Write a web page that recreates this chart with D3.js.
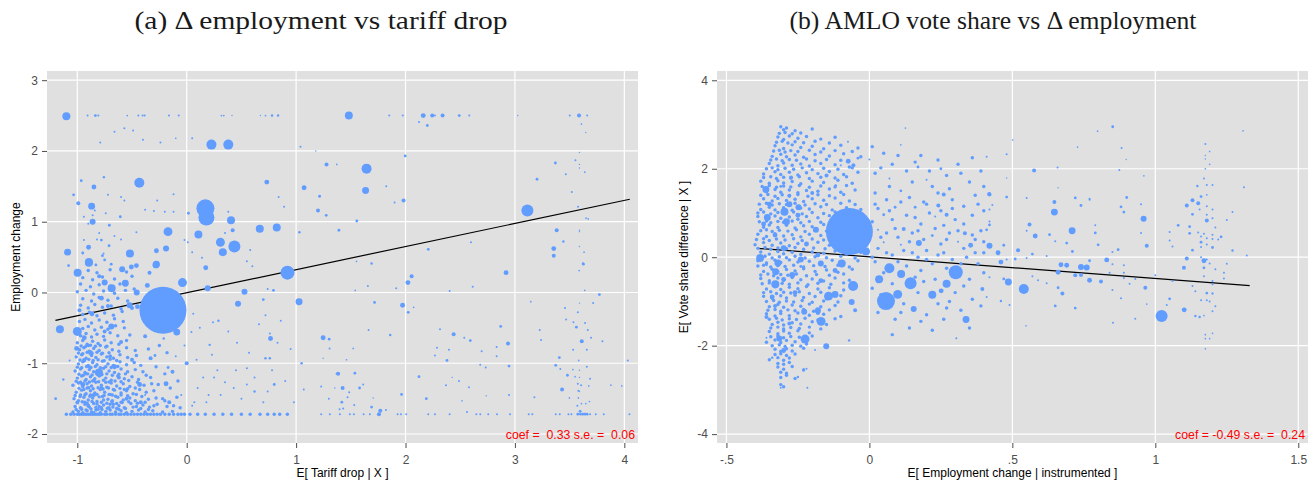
<!DOCTYPE html>
<html><head><meta charset="utf-8">
<script src="https://cdn.jsdelivr.net/npm/d3@7"></script>
<style>body{margin:0;background:#fff}svg{display:block}</style>
</head><body>
<script>
// ---------- DATA ----------
const titleA = "(a) \u0394 employment vs tariff drop";
const titleB = "(b) AMLO vote share vs \u0394 employment";
const xTitleA = "E[ Tariff drop | X ]";
const yTitleA = "Employment change";
const xTitleB = "E[ Employment change | instrumented ]";
const yTitleB = "E[ Vote share difference | X ]";
const coefA = "coef =  0.33 s.e. =  0.06";
const coefB = "coef = -0.49 s.e. =  0.24";

const xTicksA = [-1, 0, 1, 2, 3, 4];
const xLabelsA = ["-1", "0", "1", "2", "3", "4"];
const yTicksA = [-2, -1, 0, 1, 2, 3];
const yLabelsA = ["-2", "-1", "0", "1", "2", "3"];
const xTicksB = [-0.5, 0, 0.5, 1, 1.5];
const xLabelsB = ["-.5", "0", ".5", "1", "1.5"];
const yTicksB = [-4, -2, 0, 2, 4];
const yLabelsB = ["-4", "-2", "0", "2", "4"];

// fitted lines (endpoints)
const fitA = [[-1.2, -0.395], [4.05, 1.318]];
const fitB = [[-0.39, 0.20], [1.33, -0.64]];

// panel (a): [x, y, weight]  (weight omitted = small municipality)
const pointsA = [
 // large / medium
 [-1.10,2.49,16],[0.226,2.09,25],[0.38,2.09,25],[-0.433,1.55,25],[0.171,1.19,81],[0.18,1.06,64],[0.405,1.02,16],[0.668,0.90,16],[0.823,0.92,16],[0.436,0.65,36],[0.308,0.71,20],[0.33,0.57,16],[0.107,0.82,16],[-0.171,0.86,20],[-0.519,0.55,16],[-0.869,1.22,12],[-0.86,1.0,9],[-1.089,0.57,12],[-0.848,1.49,6],[-0.897,0.64,6],[-0.894,0.43,16],[-0.991,1.26,4],[-1.034,1.38,2],[-0.964,1.58,2],[-0.757,1.63,1.5],[-0.277,0.59,6],[-0.189,0.62,9],[-0.277,0.40,12],[-0.46,0.38,6],[0.016,1.12,2],[0.42,0.88,4],[-0.607,1.07,2],[-0.707,0.95,2],[0.732,1.56,6],[1.073,1.48,6],[1.214,1.36,2],[1.2,1.16,4],[1.278,1.81,4],[1.04,2.06,1],[1.18,2.0,0.5],[1.03,0.85,1.5],[0.921,0.28,49],
 [-0.217,-0.25,552],[-1.159,-0.52,16],[-1.0,-0.55,20],[-0.997,0.28,16],[-0.894,0.42,16],[-0.75,0.14,9],[-0.686,0.06,16],[-0.561,0.13,12],[-0.457,0.0,9],[-0.36,0.10,6],[-0.281,0.39,12],[-0.039,0.14,20],[-0.091,-0.56,12],[0.192,0.06,9],[0.528,0.01,9],[0.469,-0.16,9],[1.027,-0.13,12],[0.766,-0.65,6],[0.174,0.35,6],[-0.189,-1.29,6],[-0.506,0.36,6],[-0.59,0.33,9],[-0.689,-0.48,9],[-0.522,-0.18,9],[-0.45,-0.2,6],[-0.78,-0.08,6],[-0.8,0.23,4],[-0.936,-0.64,6],[-1.006,-0.79,6],[-0.866,-0.30,6],[-0.72,-0.19,4],[-0.5,-0.22,4],[-0.802,-1.13,16],[-0.34,0.28,4],
 [-0.88,-0.85,6],[-0.95,-1.3,6],[-0.7,-0.9,4],[-0.62,-1.2,4],[-0.55,-1.5,4],[-0.85,-1.45,4],[-0.75,-0.55,4],[-0.6,-0.7,4],[-0.98,-0.25,4],[-0.5,-0.95,4],[-0.42,-1.55,4],[-0.38,-0.62,4],[-0.9,-1.6,4],[-0.66,-1.05,6],[-0.78,-1.35,4],
 // top row (capped at 2.5)
 [-0.906,2.5,1],[-0.835,2.5,2],[-0.808,2.5,1],[-0.543,2.5,0.7],[-0.442,2.5,1],[-0.403,2.5,1],[-0.384,2.5,1],[-0.162,2.5,1],[-0.073,2.5,1],[0.317,2.5,0.7],[0.339,2.5,0.7],[0.414,2.5,0.5],[0.674,2.5,0.5],[0.72,2.5,0.7],[0.78,2.5,1.5],[0.835,2.5,1.5],[1.482,2.5,16],[1.851,2.5,1],[1.975,2.5,1],[2.162,2.5,6],[2.244,2.5,4],[2.269,2.5,1],[2.339,2.5,4],[2.491,2.5,2],[2.583,2.5,1],[3.026,2.5,0.5],[3.501,2.5,1],[3.586,2.5,4],[3.66,2.5,1],
 [-0.79,2.12,1],[-0.66,2.27,1],[-0.57,2.32,1],[-0.49,2.29,1],[-0.40,2.16,1],[-0.24,2.12,1],[-0.1,2.18,0.7],[0.05,2.18,1],
 // scattered upper-left
 [-0.72,1.38,1],[-0.6,1.35,1],[-0.57,1.3,1],[-0.74,1.12,1],[-0.46,0.85,1],[-0.38,1.17,1],[-0.30,1.15,1],[-0.27,1.3,1],[-0.2,1.14,1],[-0.12,1.14,1],[-0.12,1.39,1],[-0.02,0.74,1],[0.01,0.71,1],[0.05,0.57,1],[0.14,0.49,1],[0.55,0.44,1],[0.6,0.37,1],[0.58,0.6,1],[0.84,1.35,1],[0.89,1.21,1],[0.38,1.14,1],[0.35,0.84,1],[-0.78,0.74,2],[-0.82,0.75,1],[-0.71,0.66,2],[-0.6,0.75,1],[-0.77,0.52,2],[-0.76,0.55,1],[-0.83,0.39,2],[-0.95,0.56,2],[-0.94,0.74,1],[-0.94,1.07,1],[-0.95,0.55,1],[-0.9,0.97,1],[-0.86,1.09,1],[-0.84,1.16,1],[-0.8,0.84,1],[-0.66,0.8,1],[-0.75,0.46,2],[-0.69,0.4,2],[-1.08,0.38,2],
 // upper right
 [2.123,2.41,1],[2.199,2.36,2],[1.372,1.81,0.7],[1.644,1.75,25],[1.997,1.93,2],[1.635,1.44,12],[1.824,1.50,1],[1.982,1.30,4],[1.9,1.27,1],[1.217,1.36,1],[1.275,1.09,2],[1.555,1.01,2],[1.391,0.88,2],[3.114,1.16,36],[3.37,1.83,2],[3.202,1.60,2],[3.465,1.67,1],[3.52,1.42,1],[3.553,1.87,1],[3.59,1.98,0.5],[3.59,1.81,0.5],[3.59,1.76,0.5],[3.638,1.70,0.7],[3.608,2.38,0.7],[3.647,2.26,0.5],[3.577,1.21,1],[3.65,1.05,0.7],[3.67,1.04,0.7],[3.382,0.88,4],[3.443,0.72,1.5],[3.355,0.62,6],[3.355,0.52,4],[3.59,0.88,0.5],[3.59,0.86,0.5],[3.59,0.65,0.5],[3.632,0.57,0.7],[3.623,0.41,1.5],[2.208,0.61,2],[2.598,0.71,1],[1.552,0.44,0.7],[1.69,0.41,1.5],
 // lower right
 [2.919,0.28,6],[2.022,0.14,6],[2.056,0.23,4],[1.973,-0.18,6],[2.025,-0.28,2],[2.074,-0.21,0.7],[1.717,-0.14,2],[1.656,0.09,1],[1.54,0.03,0.7],[1.915,0.06,1],[2.403,0.02,1],[2.614,0.08,1],[3.626,0.40,2],[3.587,0.31,0.7],[3.638,0.03,0.7],[3.772,-0.03,2],[3.715,-0.15,1],[3.59,-0.15,0.5],[3.575,-0.28,1],[3.458,-0.22,1],[3.145,-0.13,0.7],[3.468,-0.38,1],[3.535,-0.42,1],[3.562,-0.49,2],[3.641,-0.43,1],[3.666,-0.53,1],[3.611,-0.69,4],[3.696,-0.64,1],[3.657,-0.81,1],[3.532,-0.81,1],[3.8,-0.69,1],[3.227,-0.53,1],[3.239,-0.67,1],[2.87,-0.48,2],[2.937,-0.72,4],[2.833,-0.77,1],[2.696,-0.83,1],[2.833,-0.90,1],[2.946,-1.04,2],[2.733,-1.06,1],[2.683,-1.02,1],[2.592,-0.68,2],[2.537,-0.64,1],[2.44,-0.59,4],[2.315,-0.52,1],[2.397,-0.81,1],[2.287,-0.78,1],[2.379,-0.96,2],[2.269,-0.89,1],[2.123,-1.19,2],[2.37,-1.31,1],[2.489,-1.25,1],[2.58,-1.34,1],[2.427,-1.20,0.5],[2.738,-1.46,0.5],[2.946,-1.45,1],[2.19,-1.50,2],[2.516,-1.53,0.7],[2.562,-1.69,1],[1.964,-1.44,2],[1.86,-0.60,1.5],[1.662,-0.53,1],[1.247,-0.64,6],[1.302,-0.66,2],[1.306,-0.79,1],[1.522,-0.79,0.7],[1.461,-0.95,0.7],[1.247,-0.93,0.5],[1.384,-1.15,4],[1.37,-1.15,1],[1.537,-1.14,2],[1.425,-1.35,4],[1.613,-1.30,1],[1.58,-1.35,2],[1.354,-1.35,0.5],[1.229,-1.33,1],[1.485,-1.41,1],[1.47,-1.48,1],[1.418,-1.55,2],[1.299,-1.50,1],[1.531,-1.59,1],[1.69,-1.62,2],[1.769,-1.67,4],[1.757,-1.72,4],[1.705,-1.49,0.5],[1.821,-1.66,1],[1.397,-1.65,1],[1.43,-1.64,1],[4.032,-0.96,1],[3.977,-1.32,0.7],[3.877,-1.31,0.7],[3.583,-0.96,0.7],[3.373,-1.03,2],[3.406,-0.92,2],[3.415,-1.08,1],[3.48,-1.17,2],[3.431,-1.37,4],[3.55,-1.19,0.7],[3.575,-1.29,1],[3.605,-1.31,1],[3.687,-1.22,1],[3.675,-1.32,0.7],[3.58,-1.39,1],[3.498,-1.49,0.7],[3.58,-1.49,0.7],[3.608,-1.57,0.7],[3.571,-1.60,1],[3.648,-1.57,0.7],[3.681,-1.54,0.7],[3.596,-1.68,2],[3.178,-1.48,1],[3.657,-1.05,1],[3.53,-1.09,0.7],[3.59,-1.1,0.5],[3.59,-1.2,0.5],[3.59,-1.4,0.5],
 // middle (x 0..1)
 [0.793,0.03,2],[0.74,0.05,1],[0.70,-0.10,2],[0.72,-0.32,1],[0.76,-0.58,1],[0.83,-0.71,1],[0.72,-0.93,1.5],[0.76,-0.93,1.5],[0.80,-1.30,2],[1.05,-1.00,1.5],[0.55,-1.07,1],[0.46,-0.71,1],[0.21,-0.74,1.5],[0.29,-0.40,1.5],[0.24,-0.42,1],[0.043,-0.56,1],[0.0,-1.0,4],[-0.13,-1.12,4],[-0.17,-1.06,2],[-0.29,-0.89,2],[-0.33,-0.93,4],[-0.43,-1.3,6],[-0.21,-0.65,1.5],[0.23,-0.88,1],[0.28,-1.1,1],[0.35,-1.27,1],[0.43,-1.35,1],[0.55,-1.30,1],[0.62,-1.40,1.5],[0.74,-1.40,1],[1.07,-1.37,1],[0.07,-1.55,1],[0.18,-1.55,1],[-0.16,-1.55,4],[-0.38,-1.45,1],[-1.198,-1.50,2],[-1.128,-1.23,1.5],[-1.07,-0.96,1],
 [0.25,-1.2,1],[0.31,-1.45,1],[0.38,-0.55,1],[0.45,-1.1,1],[0.5,-1.5,1],[0.57,-0.85,1],[0.62,-1.2,1],[0.66,-0.45,1],[0.7,-1.55,1],[0.78,-1.1,1],[0.86,-0.4,1],[0.9,-1.25,1],[0.95,-0.8,1],[0.98,-1.55,1],[0.12,-0.5,1],[0.06,-0.3,1],[0.1,-1.35,1],[0.15,-1.2,1],[0.2,-1.45,1],[0.05,-1.6,1],[-0.05,-1.45,1],[-0.1,-0.9,1],[-0.02,-0.75,1],[0.09,-0.95,1],
 [-0.25,-0.75],[-0.28,-1.05],[-0.2,-1.15],[-0.15,-1.35],[-0.22,-1.5],[-0.3,-1.6],[-0.12,-1.6],[-0.08,-1.25],[-0.18,-0.85],[-0.26,-1.3],[-0.33,-1.2],[-0.35,-0.8],[-0.3,-0.45],
 // floor (capped at -1.72)
 [-1.1,-1.72],[-1.06,-1.72],[-1.03,-1.72],[-1.0,-1.72],[-0.98,-1.72],[-0.96,-1.72],[-0.94,-1.72],[-0.92,-1.72],[-0.9,-1.72],[-0.88,-1.72],[-0.86,-1.72],[-0.84,-1.72],[-0.82,-1.72],[-0.8,-1.72],[-0.78,-1.72],[-0.75,-1.72],[-0.73,-1.72],[-0.7,-1.72],[-0.68,-1.72],[-0.65,-1.72],[-0.62,-1.72],[-0.6,-1.72],[-0.57,-1.72],[-0.54,-1.72],[-0.51,-1.72],[-0.48,-1.72],[-0.45,-1.72],[-0.42,-1.72],[-0.39,-1.72],[-0.36,-1.72],[-0.33,-1.72],[-0.3,-1.72],[-0.27,-1.72],[-0.24,-1.72],[-0.2,-1.72],[-0.16,-1.72],[-0.12,-1.72],[-0.08,-1.72],[-0.05,-1.72],[-0.02,-1.72],[0.03,-1.72],[0.1,-1.72],[0.17,-1.72],[0.25,-1.72],[0.33,-1.72],[0.41,-1.72],[0.5,-1.72],[0.58,-1.72],[0.67,-1.72],[0.74,-1.72],[0.8,-1.72],[0.85,-1.72],[0.92,-1.72],
 [1.229,-1.72,1],[1.308,-1.72,1],[1.4,-1.72,1],[1.491,-1.72,1],[1.528,-1.72,1],[1.617,-1.72,1],[1.674,-1.72,1],[1.754,-1.72,1],[1.928,-1.72,1],[1.958,-1.72,1],[2.006,-1.72,1],[2.208,-1.72,1],[2.269,-1.72,1],[2.403,-1.72,1],[2.647,-1.72,1],[2.683,-1.72,1],[2.756,-1.72,1],[2.836,-1.72,1],[2.955,-1.72,1],[3.126,-1.72,1],[3.159,-1.72,1],[3.373,-1.72,1],[3.41,-1.72,1],[3.489,-1.72,1],[3.516,-1.72,1],[3.575,-1.72,2],[3.6,-1.72,2],[3.62,-1.72,2],[3.64,-1.72,2],[3.66,-1.72,2],[3.687,-1.72,1],[3.739,-1.72,1],[3.812,-1.72,1],[4.047,-1.72,1],
 // dense block
 [-1.04,-1.69],[-0.99,-1.68],[-0.95,-1.7],[-0.91,-1.67],[-0.87,-1.69],[-0.83,-1.66],[-0.79,-1.7],[-0.74,-1.68],[-0.7,-1.66],[-0.65,-1.69],[-0.6,-1.67],[-0.55,-1.7],[-0.5,-1.68],[-0.44,-1.66],[-0.38,-1.69],[-0.31,-1.67],[-0.22,-1.69],[-0.13,-1.68],
 [-1.02,-1.61],[-0.97,-1.63],[-0.93,-1.58],[-0.89,-1.62],[-0.85,-1.57],[-0.8,-1.61],[-0.76,-1.59],[-0.71,-1.63],[-0.67,-1.58],[-0.62,-1.6],[-0.57,-1.63],[-0.51,-1.57],[-0.46,-1.61],[-0.4,-1.59],[-0.34,-1.62],[-0.27,-1.58],[-0.18,-1.61],[-0.06,-1.63],
 [-1.03,-1.5],[-0.99,-1.53],[-0.94,-1.48],[-0.9,-1.52],[-0.86,-1.49],[-0.82,-1.54],[-0.77,-1.47],[-0.72,-1.51],[-0.68,-1.53],[-0.63,-1.48],[-0.58,-1.52],[-0.52,-1.49],[-0.47,-1.53],[-0.41,-1.47],[-0.35,-1.51],[-0.28,-1.49],[-0.2,-1.53],[-0.09,-1.48],
 [-1.01,-1.41],[-0.96,-1.38],[-0.92,-1.43],[-0.88,-1.39],[-0.84,-1.42],[-0.79,-1.37],[-0.75,-1.41],[-0.7,-1.44],[-0.66,-1.38],[-0.6,-1.42],[-0.55,-1.39],[-0.49,-1.43],[-0.43,-1.37],[-0.37,-1.41],[-0.3,-1.39],
 [-1.04,-1.31],[-0.99,-1.28],[-0.95,-1.33],[-0.91,-1.29],[-0.87,-1.32],[-0.83,-1.27],[-0.78,-1.31],[-0.73,-1.34],[-0.69,-1.28],[-0.64,-1.32],[-0.58,-1.29],[-0.52,-1.33],[-0.45,-1.27],[-0.39,-1.31],[-0.32,-1.29],
 [-1.0,-1.21],[-0.96,-1.18],[-0.92,-1.23],[-0.88,-1.19],[-0.84,-1.22],[-0.79,-1.17],[-0.74,-1.21],[-0.69,-1.24],[-0.63,-1.18],[-0.57,-1.22],[-0.5,-1.19],[-0.44,-1.23],[-0.37,-1.17],
 [-1.02,-1.11],[-0.97,-1.08],[-0.93,-1.13],[-0.89,-1.09],[-0.85,-1.12],[-0.76,-1.07],[-0.71,-1.11],[-0.66,-1.13],[-0.6,-1.08],[-0.54,-1.12],[-0.47,-1.09],[-0.4,-1.12],
 [-0.99,-1.01],[-0.95,-0.98],[-0.9,-1.03],[-0.86,-0.99],[-0.82,-1.02],[-0.77,-0.97],[-0.72,-1.01],[-0.67,-1.03],[-0.61,-0.98],[-0.55,-1.02],[-0.48,-0.99],[-0.42,-1.03],
 [-1.01,-0.91],[-0.96,-0.88],[-0.92,-0.93],[-0.87,-0.89],[-0.83,-0.92],[-0.78,-0.87],[-0.73,-0.91],[-0.67,-0.93],[-0.61,-0.88],[-0.54,-0.92],[-0.46,-0.89],
 [-0.98,-0.81],[-0.94,-0.78],[-0.89,-0.83],[-0.85,-0.79],[-0.8,-0.82],[-0.74,-0.77],[-0.68,-0.81],[-0.62,-0.83],[-0.55,-0.78],[-0.47,-0.82],
 [-1.0,-0.71],[-0.95,-0.68],[-0.91,-0.73],[-0.86,-0.69],[-0.81,-0.72],[-0.75,-0.67],[-0.69,-0.71],[-0.62,-0.73],[-0.55,-0.68],
 [-0.97,-0.61],[-0.92,-0.58],[-0.87,-0.63],[-0.82,-0.59],[-0.76,-0.62],[-0.7,-0.57],[-0.63,-0.61],[-0.52,-0.6],
 [-0.95,-0.51],[-0.9,-0.48],[-0.84,-0.53],[-0.78,-0.49],[-0.72,-0.52],[-0.65,-0.47],[-0.57,-0.5],
 [-0.98,-0.41],[-0.93,-0.38],[-0.87,-0.43],[-0.8,-0.39],[-0.73,-0.42],[-0.66,-0.37],[-0.58,-0.41],
 [-0.95,-0.31],[-0.89,-0.28],[-0.82,-0.33],[-0.75,-0.29],[-0.67,-0.32],[-0.59,-0.27],
 [-0.97,-0.18],[-0.9,-0.22],[-0.84,-0.17],[-0.77,-0.21],[-0.69,-0.19],[-0.6,-0.23],[-0.52,-0.18],
 [-0.95,-0.09],[-0.87,-0.12],[-0.8,-0.07],[-0.72,-0.11],[-0.63,-0.08],[-0.54,-0.12],
 [-1.0,0.01],[-0.92,0.03],[-0.85,-0.02],[-0.76,0.02],[-0.66,-0.01],[-0.56,0.03],[-0.48,0.05],
 [-0.97,0.12],[-0.88,0.08],[-0.8,0.11],[-0.7,0.09],[-0.61,0.12],
 [-0.95,0.21],[-0.86,0.18],[-0.77,0.22],[-0.66,0.19],[-0.5,0.23],
 [-0.9,0.31],[-0.82,0.28],[-0.7,0.32],[-0.55,0.29],
 [-0.93,-1.55],[-0.88,-1.45],[-0.91,-1.35],[-0.86,-1.25],[-0.92,-1.15],[-0.89,-1.05],[-0.94,-0.95],[-0.9,-0.75],[-0.97,-1.45],[-0.81,-1.65],[-0.76,-1.52],[-0.82,-1.44],[-0.74,-1.27],[-0.8,-1.18],[-0.7,-1.58],[-0.64,-1.64],[-0.85,-1.7],[-0.78,-1.63],[-0.96,-1.65],[-1.0,-1.55],[-0.68,-1.45],[-0.6,-1.55],[-0.57,-1.37],
 [-1.01,-1.655],[-0.965,-1.64],[-0.92,-1.66],[-0.875,-1.645],[-0.83,-1.625],[-0.775,-1.655],[-0.725,-1.635],[-0.675,-1.62],[-0.62,-1.65],[-0.56,-1.64],[-0.49,-1.62],[-0.42,-1.64],[-0.35,-1.655],
 [-1.0,-1.56],[-0.955,-1.545],[-0.91,-1.565],[-0.865,-1.54],[-0.82,-1.575],[-0.78,-1.55],[-0.73,-1.565],[-0.685,-1.545],[-0.64,-1.57],[-0.59,-1.555],[-0.53,-1.545],[-0.45,-1.565],[-0.38,-1.55],
 [-1.02,-1.455],[-0.975,-1.47],[-0.93,-1.445],[-0.885,-1.465],[-0.845,-1.45],[-0.8,-1.475],[-0.755,-1.455],[-0.71,-1.44],[-0.65,-1.465],[-0.6,-1.45],[-0.54,-1.46],[-0.46,-1.44],
 [-0.985,-1.355],[-0.94,-1.37],[-0.895,-1.345],[-0.855,-1.36],[-0.81,-1.345],[-0.765,-1.365],[-0.715,-1.35],[-0.67,-1.37],[-0.61,-1.355],[-0.54,-1.36],[-0.47,-1.35],
 [-1.01,-1.255],[-0.97,-1.27],[-0.93,-1.25],[-0.89,-1.265],[-0.85,-1.245],[-0.805,-1.26],[-0.76,-1.24],[-0.71,-1.265],[-0.655,-1.25],[-0.6,-1.26],[-0.53,-1.245],
 [-0.985,-1.155],[-0.945,-1.17],[-0.905,-1.15],[-0.865,-1.165],[-0.82,-1.145],[-0.775,-1.16],[-0.73,-1.15],[-0.68,-1.17],[-0.62,-1.155],[-0.56,-1.15],
 [-1.0,-1.055],[-0.96,-1.065],[-0.915,-1.045],[-0.875,-1.06],[-0.835,-1.045],[-0.79,-1.065],[-0.74,-1.05],[-0.69,-1.06],[-0.63,-1.045],
 [-0.975,-0.955],[-0.935,-0.965],[-0.895,-0.945],[-0.855,-0.96],[-0.81,-0.95],[-0.755,-0.965],[-0.7,-0.945],[-0.64,-0.96],
 [-0.99,-0.855],[-0.95,-0.865],[-0.91,-0.845],[-0.865,-0.86],[-0.82,-0.845],[-0.77,-0.86],[-0.71,-0.85],
 [-0.965,-0.755],[-0.925,-0.765],[-0.88,-0.745],[-0.835,-0.76],[-0.79,-0.75],[-0.73,-0.76]
];

// panel (b): [x, y, weight]
const pointsB = [
 // large / medium
 [-0.07,0.58,552],[-0.012,0.13,16],[-0.362,1.53,12],[-0.357,0.90,12],[-0.382,-0.02,16],[-0.074,2.17,6],[-0.056,2.08,4],[-0.248,1.13,9],[-0.28,1.2,9],[-0.297,1.03,16],[-0.29,0.8,12],[-0.187,0.62,9],[-0.25,0.95,6],[-0.28,1.39,4],[-0.31,1.6,2],[0.173,0.32,9],[0.26,1.42,4],[0.241,1.17,4],[0.27,0.96,4],[0.334,0.54,4],[0.354,0.27,6],[0.42,0.26,9],[0.42,1.42,4],[0.25,2.0,2],[0.17,2.04,2],[0.126,2.92,0.7],[0.11,2.54,0.7],[-0.118,1.62,2],[-0.1,2.08,1],[-0.075,2.61,1],[0.0,2.21,1],[-0.04,2.24,2],[0.07,1.78,1],[0.11,1.5,2],[0.2,1.75,1],[0.16,1.13,2],[0.09,1.13,2],[0.05,0.96,2],[0.12,0.64,4],[0.03,0.62,1],[0.05,0.34,1],[0.11,0.28,1],[0.23,0.92,1],[0.22,0.49,2],[0.31,0.35,1],[0.42,0.73,2],
 [0.058,-0.99,81],[0.099,-0.84,20],[0.144,-0.59,36],[0.111,-0.38,16],[0.07,-0.25,25],[0.034,-0.50,16],[0.302,-0.34,49],[0.27,-0.60,16],[0.22,-0.85,16],[0.251,-0.76,6],[0.155,-1.17,9],[0.338,-1.41,12],[-0.057,-0.65,25],[-0.062,-1.01,9],[-0.05,-1.2,4],[-0.097,-0.14,16],[-0.143,-0.88,20],[-0.12,-0.84,12],[-0.169,-1.45,20],[-0.18,-1.25,6],[-0.228,-1.23,9],[-0.225,-1.85,20],[-0.151,-2.01,9],[-0.329,-0.61,16],[-0.328,-0.33,12],[-0.27,-0.4,9],[-0.315,-1.84,9],[-0.17,-0.14,9],[-0.17,-0.53,6],[-0.24,-0.21,2],[-0.36,-0.17,2],[0.395,-0.72,4],[0.304,-1.83,1],[-0.071,-1.88,1.5],[-0.19,-2.1,1],[-0.217,-2.95,1],[-0.31,-2.95,1],[-0.25,-2.71,1.5],[-0.30,-2.11,6],[-0.34,-2.27,1.5],[-0.36,-1.82,1],[-0.22,-2.52,1],[-0.23,-2.53,1],
 [-0.35,1.2,6],[-0.33,0.5,6],[-0.3,0.2,9],[-0.22,0.3,6],[-0.2,1.45,4],[-0.26,-0.8,6],[-0.33,-1.1,4],[-0.28,-1.5,4],[-0.15,1.85,4],[-0.37,0.75,6],[-0.12,-0.3,6],[-0.18,0.05,6],[-0.24,-0.05,9],[-0.3,-0.5,6],[-0.34,-0.9,6],[-0.36,-1.35,4],[-0.274,1.8,4],[-0.18,-1.2,9],[-0.32,-0.13,12],
 // x 0 .. 0.42
 [0.02,1.9],[0.05,2.35],[0.08,2.1],[0.13,1.95],[0.18,2.3],[0.22,1.6],[0.27,1.85],[0.31,2.1],[0.35,1.7],[0.39,1.95],[0.02,1.45],[0.06,1.3],[0.14,1.35],[0.19,1.25],[0.24,1.45],[0.29,1.3],[0.33,1.15],[0.37,1.4],[0.4,1.05],[0.03,1.1],[0.08,0.85],[0.13,0.95],[0.18,0.75],[0.21,1.0],[0.26,0.72],[0.3,0.85],[0.36,0.95],[0.39,0.6],[0.01,0.8],[0.06,0.55],[0.1,0.45],[0.15,0.55],[0.19,0.4],[0.25,0.3],[0.28,0.55],[0.33,0.2],[0.37,0.4],[0.4,0.1],[0.03,0.2],[0.08,0.05],[0.12,0.15],[0.17,0.0],[0.2,0.15],[0.24,0.05],[0.29,-0.05],[0.34,0.0],[0.38,-0.15],[0.02,-0.1],[0.05,-0.35],[0.13,-0.2],[0.18,-0.3],[0.22,-0.15],[0.27,-0.25],[0.35,-0.5],[0.4,-0.35],[0.01,-0.7],[0.04,-0.85],[0.12,-1.05],[0.17,-0.8],[0.19,-0.55],[0.24,-1.05],[0.3,-0.8],[0.36,-0.95],[0.03,-1.25],[0.09,-1.4],[0.2,-1.3],[0.27,-1.15],[0.14,-1.6],[0.08,-1.75],[0.32,-1.2],
 [0.01,2.5],[0.04,2.02],[0.07,1.6],[0.1,2.3],[0.15,1.7],[0.16,2.15],[0.21,1.95],[0.24,2.2],[0.28,1.55],[0.32,1.9],[0.36,2.25],[0.4,1.6],[0.02,1.2],[0.07,1.05],[0.11,1.25],[0.16,0.9],[0.2,1.2],[0.25,1.05],[0.29,1.1],[0.33,0.75],[0.38,1.2],[0.04,0.45],[0.09,0.65],[0.14,0.35],[0.17,0.6],[0.23,0.65],[0.27,0.4],[0.31,0.6],[0.36,0.5],[0.4,0.35],[0.01,0.0],[0.06,0.1],[0.1,-0.1],[0.15,0.1],[0.2,-0.05],[0.26,0.1],[0.32,-0.15],[0.37,0.1],[0.03,-0.55],[0.08,-0.6],[0.16,-0.45],[0.23,-0.5],[0.28,-1.0],[0.33,-0.65],[0.39,-1.1],[0.06,-1.1],[0.11,-1.25],[0.18,-1.45],[0.22,-1.65],[0.26,-1.4],[0.35,-1.6],
 // x 0.42 .. 1.0
 [0.959,0.87,9],[0.851,2.95,2],[0.798,2.85,0.7],[0.728,2.49,0.7],[0.882,2.47,1],[0.898,2.21,0.5],[0.874,1.97,1],[0.658,2.03,1],[0.576,1.96,4],[0.501,2.65,0.7],[0.48,2.33,1],[0.41,2.27,1],[0.48,1.79,0.5],[0.419,1.43,4],[0.48,1.36,2],[0.55,1.34,1],[0.647,1.02,12],[0.647,1.25,4],[0.72,1.34,2],[0.74,1.17,2],[0.77,1.3,1],[0.709,0.60,12],[0.56,0.74,4],[0.58,0.48,6],[0.55,0.6,1],[0.63,0.51,2],[0.65,0.36,1],[0.69,0.32,2],[0.71,0.13,2],[0.79,0.72,1],[0.79,0.55,2],[0.8,0.28,2],[0.85,0.12,1],[0.87,0.17,2],[0.83,-0.06,6],[0.85,-0.16,1],[0.77,-0.08,2],[0.89,-0.18,1],[0.97,0.26,4],[0.96,0.85,1],[0.95,0.55,1],[0.95,1.2,1],[0.88,1.14,2],[0.89,1.02,2],[0.9,1.35,2],[0.96,1.84,0.7],[0.77,1.32,1],[0.66,1.57,0.5],[0.43,1.18,1],[0.47,0.27,2],[0.45,0.1,6],[0.52,0.16,4],[0.57,0.07,2],[0.62,0.03,1],[0.55,-0.02,1],[0.51,-0.04,2],[0.46,-0.11,6],[0.48,-0.05,1],[0.67,-0.17,6],[0.69,-0.18,6],[0.74,-0.22,9],[0.76,-0.23,9],[0.42,0.81,1],[0.41,0.62,2],[0.42,1.08,1],
 [0.54,-0.72,25],[0.486,-0.56,12],[0.965,-0.69,4],[1.05,-0.94,2],[1.04,-1.08,1],[0.675,-0.82,4],[0.66,-0.69,2],[0.65,-1.10,2],[0.72,-1.15,2],[0.46,-0.99,1.5],[0.49,-1.08,1],[0.548,-1.55,0.7],[0.62,-0.59,1],[0.59,-0.52,1],[0.57,-0.43,1],[0.66,-0.34,6],[0.72,-0.41,4],[0.74,-0.40,4],[0.77,-0.52,6],[0.81,-0.55,4],[0.84,-0.35,1],[0.89,-0.35,1],[0.89,-0.47,1],[0.85,-0.74,1],[0.88,-0.93,1],[0.852,-1.48,1],[0.93,-1.39,1],[0.91,-0.60,1],[0.93,-0.49,1],[0.97,-1.06,0.7],[1.0,-0.41,1],[1.06,-0.54,1],[0.42,-0.45,1],[0.47,-0.49,2],[0.41,-0.9,1],
 // x around 1.0 .. 1.33
 [1.022,-1.33,36],[1.101,-1.19,6],[1.1,-0.24,4],[1.14,-1.33,1.5],[1.155,-1.35,1.5],[1.17,-0.24,2],[1.21,-0.27,1],[1.17,-0.43,1],[1.2,-0.54,1],[1.2,-0.61,1],[1.24,-0.35,1],[1.24,-0.48,1],[1.18,-0.81,2],[1.2,-0.82,1],[1.2,-0.82,1],[1.16,-0.97,1],[1.18,-0.97,1],[1.19,-1.0,1],[1.21,-1.11,1],[1.2,-1.22,1],[1.17,-1.32,0.7],[1.175,-1.75,0.7],[1.175,-1.84,0.7],[1.19,-1.84,0.7],[1.2,-1.72,0.7],[1.175,-2.07,0.7],[1.14,-0.77,1],[1.13,-0.65,1],
 [1.307,2.86,0.7],[1.175,2.56,1],[1.19,2.39,0.7],[1.175,2.3,0.5],[1.175,2.22,0.5],[1.19,2.1,0.7],[1.175,2.0,0.7],[1.17,1.78,1],[1.147,1.61,1.5],[1.18,1.63,1],[1.2,1.63,1],[1.31,1.58,1],[1.18,1.41,0.7],[1.16,1.37,2],[1.13,1.29,4],[1.15,1.22,4],[1.11,1.17,4],[1.18,1.15,1],[1.155,1.08,1],[1.2,1.08,1],[1.13,0.97,2],[1.18,0.83,4],[1.2,0.88,1],[1.18,0.96,1],[1.27,1.02,1],[1.25,0.84,1],[1.08,0.72,2],[1.12,0.69,2],[1.12,0.54,2],[1.15,0.56,1],[1.17,0.53,1],[1.18,0.43,1],[1.2,0.51,1],[1.21,0.67,1],[1.23,0.46,2],[1.22,0.4,1],[1.2,0.41,1],[1.16,0.47,1],[1.16,0.34,2],[1.18,0.29,1],[1.16,0.23,1],[1.2,0.22,2],[1.13,0.16,2],[1.16,0.0,1],[1.11,-0.03,4],[1.17,-0.08,6],[1.18,-0.05,1],[1.19,-0.14,1],[1.27,0.15,1.5],[1.32,0.04,1],[1.25,-0.15,1],[1.05,0.57,1],[1.05,0.38,1],[1.06,0.24,1],
 // dense block
 [-0.31,2.95],[-0.3,2.88],[-0.29,2.92],[-0.26,2.86],[-0.2,2.9],
 [-0.32,2.72],[-0.3,2.66],[-0.28,2.74],[-0.25,2.69],[-0.22,2.73],[-0.17,2.67],[-0.12,2.71],
 [-0.33,2.52],[-0.3,2.46],[-0.27,2.54],[-0.24,2.48],[-0.2,2.51],[-0.16,2.45],[-0.1,2.53],[-0.04,2.47],
 [-0.34,2.28],[-0.31,2.33],[-0.29,2.27],[-0.26,2.31],[-0.23,2.26],[-0.19,2.32],[-0.14,2.29],[-0.09,2.34],[-0.03,2.27],
 [-0.35,2.12],[-0.32,2.07],[-0.3,2.13],[-0.27,2.08],[-0.24,2.11],[-0.21,2.06],[-0.17,2.12],[-0.12,2.09],[-0.07,2.04],
 [-0.37,1.88],[-0.33,1.93],[-0.31,1.87],[-0.28,1.92],[-0.25,1.86],[-0.22,1.91],[-0.18,1.89],[-0.14,1.94],[-0.09,1.87],[-0.04,1.92],
 [-0.38,1.72],[-0.35,1.67],[-0.32,1.73],[-0.3,1.68],[-0.27,1.71],[-0.24,1.66],[-0.2,1.72],[-0.16,1.69],[-0.11,1.74],[-0.06,1.67],
 [-0.36,1.48],[-0.33,1.53],[-0.31,1.47],[-0.28,1.52],[-0.25,1.46],[-0.22,1.51],[-0.18,1.49],[-0.14,1.54],[-0.1,1.47],[-0.05,1.52],
 [-0.37,1.32],[-0.34,1.27],[-0.32,1.33],[-0.29,1.28],[-0.26,1.31],[-0.23,1.26],[-0.2,1.32],[-0.16,1.29],[-0.12,1.34],[-0.07,1.27],
 [-0.38,1.08],[-0.35,1.13],[-0.33,1.07],[-0.3,1.12],[-0.27,1.06],[-0.24,1.11],[-0.21,1.09],[-0.17,1.14],[-0.13,1.07],[-0.08,1.12],[-0.03,1.08],
 [-0.39,0.92],[-0.36,0.87],[-0.33,0.93],[-0.31,0.88],[-0.28,0.91],[-0.25,0.86],[-0.22,0.92],[-0.18,0.89],[-0.14,0.94],[-0.1,0.87],
 [-0.37,0.68],[-0.35,0.73],[-0.32,0.67],[-0.29,0.72],[-0.26,0.66],[-0.23,0.71],[-0.2,0.69],[-0.16,0.74],[-0.12,0.67],
 [-0.39,0.52],[-0.36,0.47],[-0.33,0.53],[-0.3,0.48],[-0.27,0.51],[-0.24,0.46],[-0.21,0.52],[-0.17,0.49],[-0.13,0.54],
 [-0.4,0.28],[-0.37,0.33],[-0.34,0.27],[-0.31,0.32],[-0.28,0.26],[-0.25,0.31],[-0.22,0.29],[-0.18,0.34],[-0.14,0.27],[-0.1,0.32],[-0.05,0.28],
 [-0.38,0.12],[-0.35,0.07],[-0.32,0.13],[-0.3,0.08],[-0.27,0.11],[-0.24,0.06],[-0.2,0.12],[-0.16,0.09],[-0.12,0.14],[-0.08,0.07],[-0.03,0.11],
 [-0.39,-0.08],[-0.36,-0.13],[-0.33,-0.07],[-0.31,-0.12],[-0.28,-0.06],[-0.25,-0.11],[-0.21,-0.09],[-0.17,-0.14],[-0.13,-0.07],[-0.09,-0.12],[-0.04,-0.08],
 [-0.37,-0.32],[-0.34,-0.27],[-0.32,-0.33],[-0.29,-0.28],[-0.26,-0.31],[-0.23,-0.26],[-0.19,-0.32],[-0.15,-0.29],[-0.11,-0.34],[-0.06,-0.27],
 [-0.38,-0.48],[-0.35,-0.53],[-0.32,-0.47],[-0.3,-0.52],[-0.27,-0.46],[-0.24,-0.51],[-0.2,-0.49],[-0.16,-0.54],[-0.12,-0.47],[-0.07,-0.52],
 [-0.36,-0.72],[-0.33,-0.67],[-0.31,-0.73],[-0.28,-0.68],[-0.25,-0.71],[-0.22,-0.66],[-0.18,-0.72],[-0.14,-0.69],[-0.09,-0.74],
 [-0.37,-0.88],[-0.34,-0.93],[-0.31,-0.87],[-0.29,-0.92],[-0.26,-0.86],[-0.23,-0.91],[-0.19,-0.89],[-0.15,-0.94],[-0.1,-0.87],
 [-0.35,-1.12],[-0.32,-1.07],[-0.3,-1.13],[-0.27,-1.08],[-0.24,-1.11],[-0.21,-1.06],[-0.17,-1.12],[-0.12,-1.09],
 [-0.36,-1.28],[-0.33,-1.33],[-0.31,-1.27],[-0.28,-1.32],[-0.25,-1.26],[-0.21,-1.31],[-0.16,-1.29],[-0.1,-1.34],
 [-0.34,-1.52],[-0.32,-1.47],[-0.3,-1.53],[-0.27,-1.48],[-0.24,-1.51],[-0.2,-1.46],[-0.15,-1.52],
 [-0.35,-1.68],[-0.32,-1.73],[-0.3,-1.67],[-0.28,-1.72],[-0.25,-1.66],[-0.21,-1.71],
 [-0.36,-1.92],[-0.33,-1.87],[-0.31,-1.93],[-0.29,-1.88],[-0.26,-1.91],[-0.22,-1.96],
 [-0.33,-2.08],[-0.31,-2.13],[-0.29,-2.07],[-0.27,-2.12],[-0.23,-2.06],
 [-0.35,-2.32],[-0.32,-2.27],[-0.3,-2.33],[-0.28,-2.28],
 [-0.32,-2.48],[-0.3,-2.53],[-0.27,-2.47],[-0.23,-2.55],
 [-0.31,-2.72],[-0.29,-2.67],[-0.26,-2.74],
 [-0.31,-2.88],[-0.3,-2.93],
 [-0.315,2.8],[-0.295,2.82],[-0.27,2.79],[-0.24,2.81],
 [-0.325,2.6],[-0.305,2.62],[-0.285,2.58],[-0.26,2.61],[-0.23,2.59],[-0.19,2.62],[-0.14,2.58],
 [-0.335,2.4],[-0.315,2.42],[-0.295,2.38],[-0.275,2.41],[-0.25,2.39],[-0.21,2.42],[-0.17,2.38],[-0.12,2.41],[-0.06,2.39],
 [-0.345,2.2],[-0.325,2.22],[-0.305,2.18],[-0.28,2.21],[-0.255,2.19],[-0.22,2.22],[-0.19,2.18],[-0.15,2.21],[-0.1,2.19],
 [-0.36,2.0],[-0.34,2.02],[-0.32,1.98],[-0.295,2.01],[-0.265,1.99],[-0.235,2.02],[-0.2,1.98],[-0.16,2.01],[-0.11,1.99],[-0.06,2.02],
 [-0.37,1.8],[-0.345,1.82],[-0.325,1.78],[-0.3,1.81],[-0.275,1.79],[-0.245,1.82],[-0.21,1.78],[-0.17,1.81],[-0.12,1.79],[-0.08,1.82],
 [-0.375,1.6],[-0.35,1.62],[-0.325,1.58],[-0.3,1.61],[-0.275,1.59],[-0.245,1.62],[-0.21,1.58],[-0.17,1.61],[-0.12,1.59],[-0.08,1.62],
 [-0.38,1.4],[-0.355,1.42],[-0.33,1.38],[-0.305,1.41],[-0.28,1.39],[-0.25,1.42],[-0.215,1.38],[-0.18,1.41],[-0.14,1.39],[-0.09,1.42],
 [-0.385,1.2],[-0.36,1.22],[-0.34,1.18],[-0.315,1.21],[-0.29,1.19],[-0.26,1.22],[-0.225,1.18],[-0.19,1.21],[-0.15,1.19],[-0.1,1.22],[-0.05,1.19],
 [-0.39,1.0],[-0.37,1.02],[-0.345,0.98],[-0.32,1.01],[-0.295,0.99],[-0.265,1.02],[-0.235,0.98],[-0.2,1.01],[-0.16,0.99],[-0.12,1.02],[-0.06,0.98],
 [-0.385,0.8],[-0.36,0.82],[-0.345,0.78],[-0.32,0.81],[-0.3,0.79],[-0.27,0.82],[-0.24,0.78],[-0.21,0.81],[-0.17,0.79],[-0.13,0.82],[-0.08,0.78],
 [-0.38,0.6],[-0.36,0.62],[-0.34,0.58],[-0.315,0.61],[-0.285,0.59],[-0.255,0.62],[-0.225,0.58],[-0.19,0.61],[-0.15,0.59],
 [-0.395,0.4],[-0.37,0.42],[-0.35,0.38],[-0.325,0.41],[-0.295,0.39],[-0.265,0.42],[-0.235,0.38],[-0.2,0.41],[-0.16,0.39],[-0.12,0.42],[-0.03,0.38],
 [-0.39,0.2],[-0.365,0.22],[-0.345,0.18],[-0.32,0.21],[-0.29,0.19],[-0.26,0.22],[-0.23,0.18],[-0.195,0.21],[-0.155,0.19],[-0.11,0.22],[-0.06,0.18],
 [-0.385,0.0],[-0.365,0.02],[-0.34,-0.02],[-0.315,0.01],[-0.29,-0.01],[-0.26,0.02],[-0.225,-0.02],[-0.19,0.01],[-0.15,-0.01],[-0.1,0.02],[-0.05,-0.02],
 [-0.39,-0.2],[-0.37,-0.18],[-0.345,-0.22],[-0.32,-0.19],[-0.295,-0.21],[-0.265,-0.18],[-0.23,-0.22],[-0.195,-0.19],[-0.155,-0.21],[-0.11,-0.18],[-0.07,-0.22],
 [-0.38,-0.4],[-0.355,-0.38],[-0.335,-0.42],[-0.31,-0.39],[-0.285,-0.41],[-0.255,-0.38],[-0.22,-0.42],[-0.185,-0.39],[-0.14,-0.41],[-0.09,-0.38],
 [-0.375,-0.6],[-0.35,-0.58],[-0.33,-0.62],[-0.305,-0.59],[-0.28,-0.61],[-0.25,-0.58],[-0.215,-0.62],[-0.18,-0.59],[-0.135,-0.61],[-0.09,-0.58],
 [-0.37,-0.8],[-0.345,-0.78],[-0.325,-0.82],[-0.3,-0.79],[-0.275,-0.81],[-0.245,-0.78],[-0.21,-0.82],[-0.17,-0.79],[-0.12,-0.81],
 [-0.36,-1.0],[-0.335,-0.98],[-0.315,-1.02],[-0.29,-0.99],[-0.265,-1.01],[-0.235,-0.98],[-0.2,-1.02],[-0.16,-0.99],[-0.11,-1.01],
 [-0.355,-1.2],[-0.33,-1.18],[-0.31,-1.22],[-0.285,-1.19],[-0.26,-1.21],[-0.23,-1.18],[-0.195,-1.22],[-0.14,-1.19],
 [-0.35,-1.4],[-0.325,-1.38],[-0.305,-1.42],[-0.28,-1.39],[-0.255,-1.41],[-0.225,-1.38],[-0.18,-1.42],[-0.12,-1.39],
 [-0.345,-1.6],[-0.32,-1.58],[-0.3,-1.62],[-0.275,-1.59],[-0.245,-1.61],[-0.21,-1.58],[-0.17,-1.62],
 [-0.345,-1.8],[-0.32,-1.78],[-0.3,-1.82],[-0.275,-1.79],[-0.245,-1.81],[-0.2,-1.78],
 [-0.34,-2.0],[-0.315,-1.98],[-0.295,-2.02],[-0.27,-1.99],[-0.24,-2.01],
 [-0.33,-2.2],[-0.31,-2.18],[-0.29,-2.22],[-0.26,-2.19],
 [-0.32,-2.4],[-0.3,-2.42],[-0.28,-2.38],
 [-0.31,-2.6],[-0.29,-2.62]
];

// ---------- DRAWING ----------
const W = 1313, H = 482;
const svg = d3.select("body").append("svg").attr("width", W).attr("height", H)
  .style("font-family", "'Liberation Sans', Arial, sans-serif");
svg.append("rect").attr("width", W).attr("height", H).attr("fill", "#fff");

const rScale = d3.scaleSqrt().domain([0, 552]).range([0, 23.5]);

function drawPanel(o) {
  const x = d3.scaleLinear().domain(o.xDomain).range([o.left, o.right]);
  const y = d3.scaleLinear().domain(o.yDomain).range([o.bottom, o.top]);
  const g = svg.append("g");
  const clipId = "clip" + o.id;
  g.append("clipPath").attr("id", clipId).append("rect")
    .attr("x", o.left).attr("y", o.top).attr("width", o.right - o.left).attr("height", o.bottom - o.top);

  g.append("rect").attr("x", o.left).attr("y", o.top)
    .attr("width", o.right - o.left).attr("height", o.bottom - o.top).attr("fill", "#e0e0e0");

  g.append("g").selectAll("line").data(o.xTicks).join("line")
    .attr("x1", d => x(d)).attr("x2", d => x(d)).attr("y1", o.top).attr("y2", o.bottom)
    .attr("stroke", "#fff").attr("stroke-width", 1.2);
  g.append("g").selectAll("line").data(o.yTicks).join("line")
    .attr("y1", d => y(d)).attr("y2", d => y(d)).attr("x1", o.left).attr("x2", o.right)
    .attr("stroke", "#fff").attr("stroke-width", 1.2);

  const ax = d3.axisBottom(x).tickValues(o.xTicks).tickFormat((d, i) => o.xLabels[i])
    .tickSize(5).tickPadding(7);
  const ay = d3.axisLeft(y).tickValues(o.yTicks).tickFormat((d, i) => o.yLabels[i])
    .tickSize(5).tickPadding(4);
  [g.append("g").attr("transform", `translate(0,${o.bottom})`).call(ax),
   g.append("g").attr("transform", `translate(${o.left},0)`).call(ay)].forEach(a => {
    a.select(".domain").remove();
    a.selectAll(".tick line").attr("stroke", "#4d4d4d");
    a.selectAll(".tick text").attr("fill", "#4d4d4d").style("font-size", "12px")
      .style("font-family", "'Liberation Sans', Arial, sans-serif");
  });

  const inner = g.append("g").attr("clip-path", `url(#${clipId})`);
  inner.append("path").datum(o.fit)
    .attr("d", d3.line().x(d => x(d[0])).y(d => y(d[1])))
    .attr("fill", "none").attr("stroke", "#000").attr("stroke-width", 1.2);
  inner.append("g").selectAll("circle").data(o.points).join("circle")
    .attr("cx", d => x(d[0])).attr("cy", d => y(d[1]))
    .attr("r", d => rScale(d.length > 2 ? d[2] : o.defaultW))
    .attr("fill", "#619CFF");

  g.append("text").attr("x", o.right - 3).attr("y", o.bottom - 4)
    .attr("text-anchor", "end").attr("fill", "#ff0000").style("font-size", "12.3px")
    .style("white-space", "pre").text(o.coef);

  g.append("text").attr("x", (o.left + o.right) / 2).attr("y", 477)
    .attr("text-anchor", "middle").attr("fill", "#000").style("font-size", "12px").text(o.xTitle);
  g.append("text").attr("transform", `translate(${o.yTitleX},${(o.top + o.bottom) / 2}) rotate(-90)`)
    .attr("text-anchor", "middle").attr("fill", "#000").style("font-size", "12px").text(o.yTitle);

  g.append("text").attr("x", o.titleX).attr("y", 29).attr("text-anchor", "middle")
    .attr("fill", "#1a1a1a")
    .style("font-family", "'Liberation Serif', 'DejaVu Serif', serif").style("font-size", "26px")
    .attr("textLength", o.titleLen).attr("lengthAdjust", "spacingAndGlyphs")
    .text(o.title);
}

drawPanel({id: "A", left: 47, right: 638, top: 71, bottom: 443,
  xDomain: [-1.277, 4.125], yDomain: [-2.127, 3.13],
  xTicks: xTicksA, xLabels: xLabelsA, yTicks: yTicksA, yLabels: yLabelsA,
  points: pointsA, fit: fitA, defaultW: 3, coef: coefA,
  xTitle: xTitleA, yTitle: yTitleA, yTitleX: 19.5,
  title: titleA, titleX: 321, titleLen: 373});

drawPanel({id: "B", left: 717, right: 1308, top: 71, bottom: 443,
  xDomain: [-0.533, 1.534], yDomain: [-4.2, 4.21],
  xTicks: xTicksB, xLabels: xLabelsB, yTicks: yTicksB, yLabels: yLabelsB,
  points: pointsB, fit: fitB, defaultW: 3, coef: coefB,
  xTitle: xTitleB, yTitle: yTitleB, yTitleX: 687.5,
  title: titleB, titleX: 993, titleLen: 407});
</script>
</body></html>
